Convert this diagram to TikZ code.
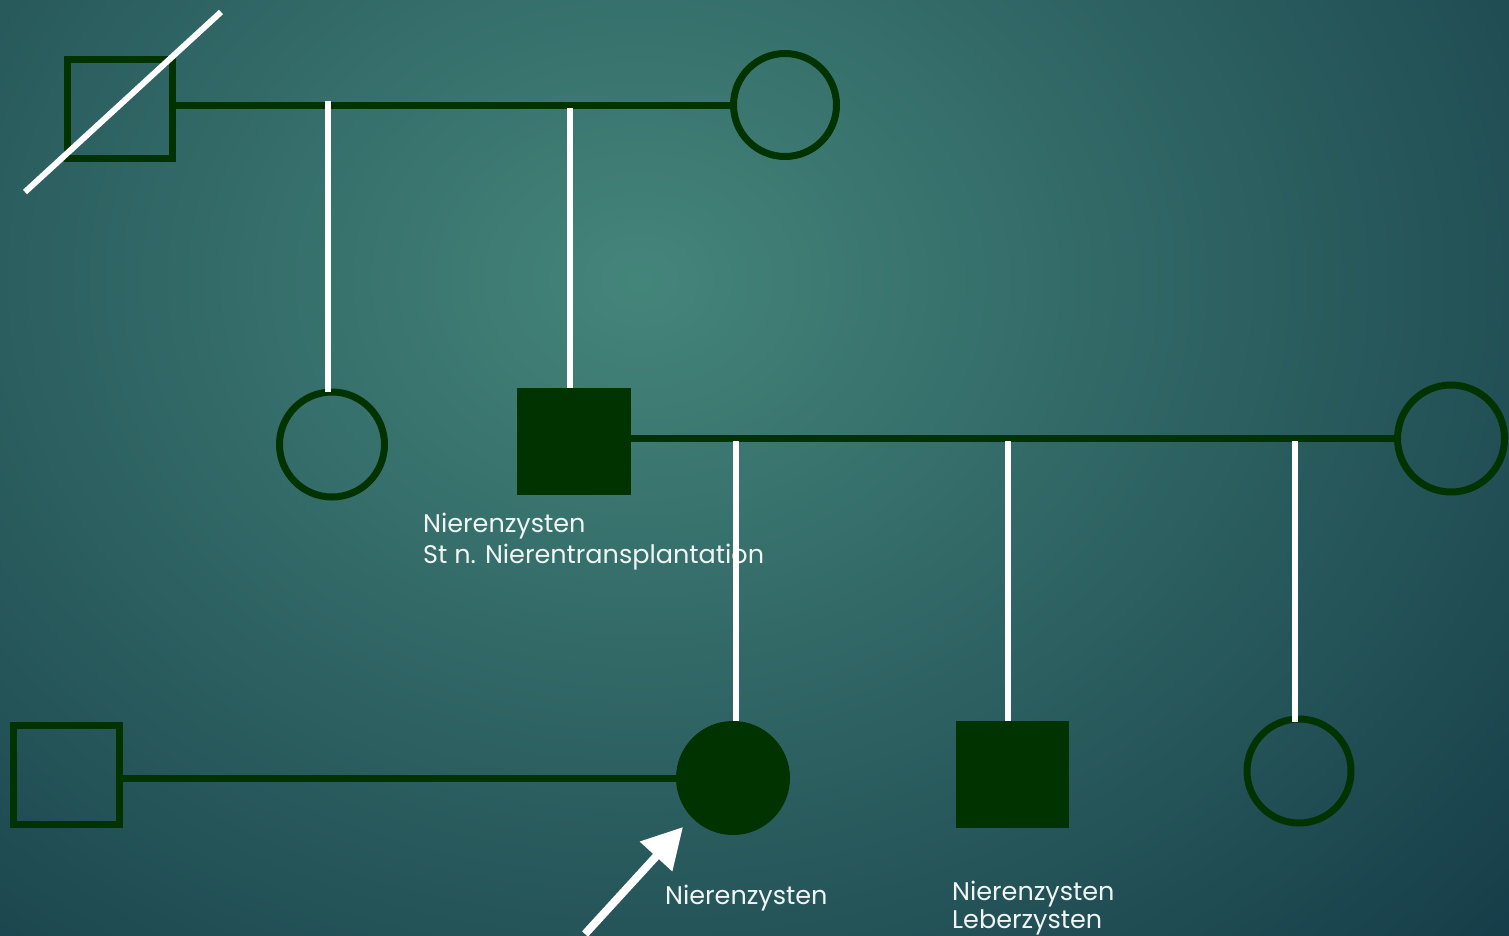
\documentclass[tikz,border=0pt]{standalone}
\usepackage{fontspec}
\setmainfont{Poppins}
\usetikzlibrary{arrows.meta}
\definecolor{bgin}{HTML}{44857A}
\definecolor{bgout}{HTML}{153C48}
\definecolor{pgreen}{HTML}{003300}
\tikzset{
  pedline/.style={draw=pgreen, line width=7pt},
  drop/.style={draw=white, line width=6pt},
  male/.style={rectangle, draw=pgreen, line width=7pt, inner sep=0pt, outer sep=0pt},
  female/.style={circle, draw=pgreen, line width=7pt, inner sep=0pt, outer sep=0pt},
  affmale/.style={rectangle, fill=pgreen, inner sep=0pt, outer sep=0pt},
  afffemale/.style={circle, fill=pgreen, inner sep=0pt, outer sep=0pt},
  lbl/.style={text=white!92!bgin, anchor=base west, inner sep=0pt, font=\fontsize{25.5}{30}\selectfont}
}
\begin{document}
\begin{tikzpicture}[x=1pt,y=-1pt]
\useasboundingbox (0,0) rectangle (1509,935);
\begin{scope}
\clip (0,0) rectangle (1509,935);
\shade[inner color=bgin, outer color=bgout] (-560,-700) rectangle (1840,1260);
\end{scope}

% texts (drawn first, lines pass over them)
\node[lbl] (t1) at (423,532) {Nierenzysten};
\node[lbl] (t2) at (423,563) {St n. Nierentransplantation};
\node[lbl] (t3) at (665,904) {Nierenzysten};
\node[lbl] (t4) at (952,900) {Nierenzysten};
\node[lbl] (t5) at (952,928) {Leberzysten};

% generation I
\node[male, minimum width=105pt, minimum height=99pt] (gf) at (120,108.5) {};
\node[female, minimum size=103pt] (gm) at (785,105) {};
% generation II
\node[female, minimum size=105pt] (aunt) at (332,444.5) {};
\node[affmale, minimum width=114pt, minimum height=107pt] (father) at (574,441.5) {};
\node[female, minimum size=107pt] (mother) at (1451,438.5) {};
% generation III
\node[male, minimum width=106pt, minimum height=99pt] (husband) at (66.5,775) {};
\node[afffemale, minimum size=114pt] (proband) at (733,778) {};
\node[affmale, minimum width=113pt, minimum height=107pt] (brother) at (1012.5,774.5) {};
\node[female, minimum size=104pt] (sister) at (1299,771) {};

% drop lines
\coordinate (d1) at (328,101);
\coordinate (d2) at (570,108);
\coordinate (d3) at (736,441);
\coordinate (d4) at (1008,441);
\coordinate (d5) at (1295,441);

% marriage lines
\draw[pedline] (gf.east |- gm.west) -- (gm.west);
\draw[pedline] (father.east |- mother.west) -- (mother.west);
\draw[pedline] (husband.east |- proband.west) -- (proband.west);

\draw[drop] (d1) -- (d1 |- aunt.north);
\draw[drop] (d2) -- (d2 |- father.north);
\draw[drop] (d3) -- (d3 |- proband.north);
\draw[drop] (d4) -- (d4 |- brother.north);
\draw[drop] (d5) -- ([yshift=-3pt]d5 |- sister.north);

% deceased mark
\coordinate (dsA) at (25,192);
\coordinate (dsB) at (221,12);
\draw[drop] (dsA) -- (dsB);

% proband arrow
\coordinate (atail) at (585,934);
\coordinate (atip) at (683,827);
\draw[draw=white, line width=8pt, -{Triangle[length=40pt, width=42pt]}] (atail) -- (atip);
\end{tikzpicture}
\end{document}
